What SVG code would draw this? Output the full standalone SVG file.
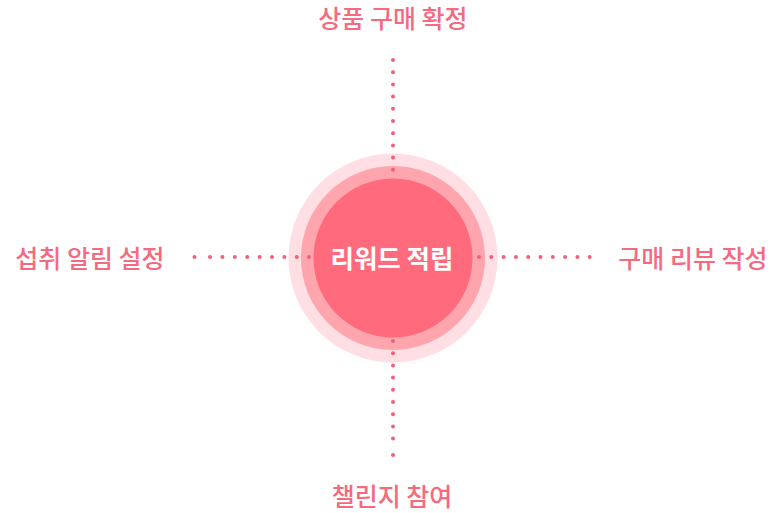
<svg xmlns="http://www.w3.org/2000/svg" width="775" height="513" viewBox="0 0 775 513">
<style>
.lbl{font-family:"Noto Sans CJK KR","Noto Sans",sans-serif;font-size:25px;font-weight:500;fill:#f56a7e;text-anchor:middle}
.ctr{font-family:"Noto Sans CJK KR","Noto Sans",sans-serif;font-size:25.5px;font-weight:700;fill:#ffffff;text-anchor:middle}
.dot{fill:#ef6178}
</style>
<defs><circle id="d" r="2" class="dot"/></defs>
<rect width="775" height="513" fill="#ffffff"/>
<g id="rings">
<circle cx="393" cy="258" r="104.5" fill="#ffdfe3"/>
<circle cx="393" cy="258" r="92" fill="#ffa5ae"/>
</g>
<g id="connectors">
<g id="top-dots">
<use href="#d" x="393" y="60"/><use href="#d" x="393" y="72.2"/><use href="#d" x="393" y="84.4"/><use href="#d" x="393" y="96.6"/><use href="#d" x="393" y="108.8"/><use href="#d" x="393" y="121"/><use href="#d" x="393" y="133.2"/><use href="#d" x="393" y="145.4"/><use href="#d" x="393" y="157.6"/><use href="#d" x="393" y="169.8"/>
</g>
<g id="bottom-dots">
<use href="#d" x="393" y="341"/><use href="#d" x="393" y="353.2"/><use href="#d" x="393" y="365.4"/><use href="#d" x="393" y="377.6"/><use href="#d" x="393" y="389.8"/><use href="#d" x="393" y="402"/><use href="#d" x="393" y="414.2"/><use href="#d" x="393" y="426.4"/><use href="#d" x="393" y="438.6"/><use href="#d" x="393" y="455"/>
</g>
<g id="left-dots">
<use href="#d" x="194.5" y="257"/><use href="#d" x="210" y="257"/><use href="#d" x="222.4" y="257"/><use href="#d" x="234.8" y="257"/><use href="#d" x="247.2" y="257"/><use href="#d" x="259.6" y="257"/><use href="#d" x="272" y="257"/><use href="#d" x="284.4" y="257"/><use href="#d" x="296.8" y="257"/><use href="#d" x="309" y="257"/>
</g>
<g id="right-dots">
<use href="#d" x="479" y="257"/><use href="#d" x="491.3" y="257"/><use href="#d" x="503.6" y="257"/><use href="#d" x="515.9" y="257"/><use href="#d" x="528.2" y="257"/><use href="#d" x="540.5" y="257"/><use href="#d" x="552.8" y="257"/><use href="#d" x="565.1" y="257"/><use href="#d" x="577.4" y="257"/><use href="#d" x="589.7" y="257"/>
</g>
</g>
<g id="center">
<circle cx="393" cy="258" r="79.5" fill="#ff6b7d"/>
<text class="ctr" x="392" y="267.5">리워드 적립</text>
</g>
<g id="n-top"><text class="lbl" x="393" y="27.5">상품 구매 확정</text></g>
<g id="n-left"><text class="lbl" x="90" y="267.5">섭취 알림 설정</text></g>
<g id="n-right"><text class="lbl" x="693" y="267.5">구매 리뷰 작성</text></g>
<g id="n-bottom"><text class="lbl" x="392" y="506">챌린지 참여</text></g>
</svg>
